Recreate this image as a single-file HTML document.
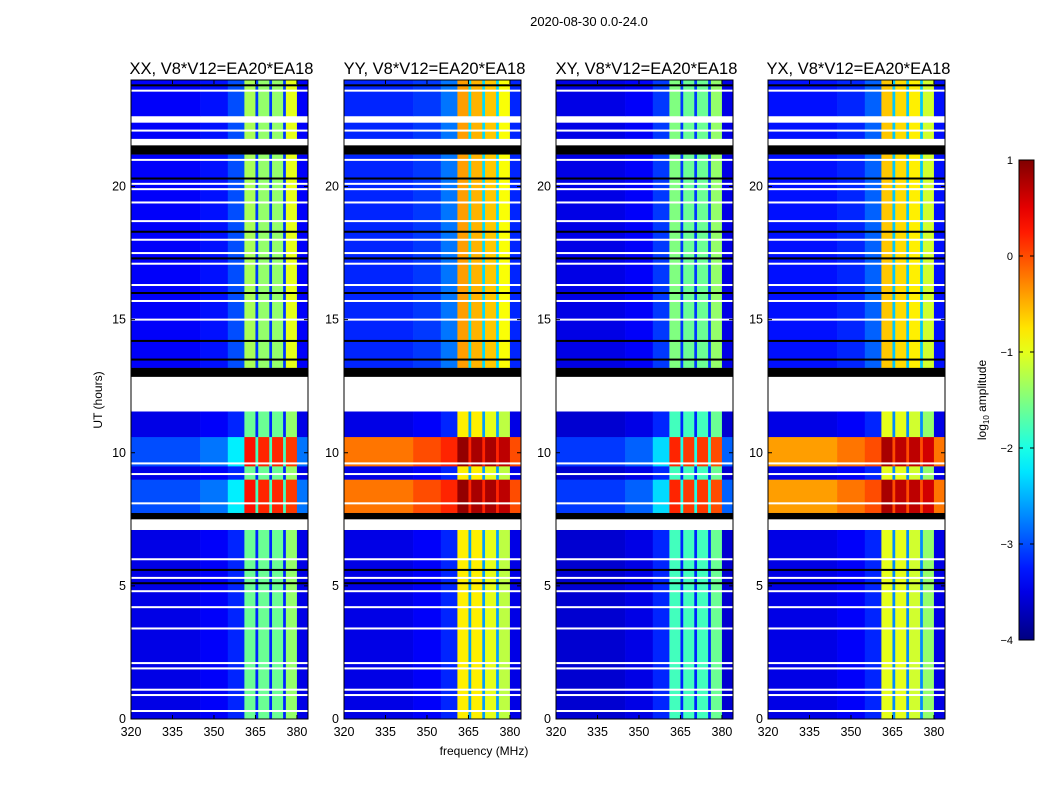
<!DOCTYPE html>
<html><head><meta charset="utf-8"><style>
body{margin:0;background:#fff;font-family:"Liberation Sans",sans-serif;}
svg text{font-family:"Liberation Sans",sans-serif;}
</style></head><body>
<svg id="chart" width="1050" height="800" xmlns="http://www.w3.org/2000/svg">
<text x="589" y="26" font-size="13" text-anchor="middle">2020-08-30 0.0-24.0</text>
<text x="484" y="755" font-size="12" text-anchor="middle">frequency (MHz)</text>
<text transform="translate(102,400) rotate(-90)" font-size="12" text-anchor="middle">UT (hours)</text>
<g id="panels"></g>
<g id="cbar"></g>
</svg>
<script>
const panelNames = ["XX, V8*V12=EA20*EA18","YY, V8*V12=EA20*EA18","XY, V8*V12=EA20*EA18","YX, V8*V12=EA20*EA18"];
const panelLeft = [131,344,556,768];
const freqEdges = [320,345,355,361,365,366,370,371,375,376,380,384];
const normalLevels = [
 [-3.5,-3.4,-3.2,-1.6,-3.2,-1.6,-3.2,-1.6,-3.2,-1.4,-3.5],
 [-3.5,-3.4,-3.2,-0.8,-2.6,-0.8,-2.6,-1.0,-2.6,-1.2,-3.5],
 [-3.6,-3.5,-3.2,-1.8,-3.2,-1.8,-3.2,-1.8,-3.2,-1.6,-3.6],
 [-3.5,-3.4,-3.2,-1.0,-2.7,-1.0,-2.7,-1.1,-2.7,-1.4,-3.5]];
const upperLevels = [
 [-3.4,-3.3,-3.0,-1.3,-3.1,-1.4,-3.1,-1.4,-3.1,-1.0,-3.4],
 [-3.2,-3.1,-2.8,-0.4,-2.3,-0.5,-2.3,-0.6,-2.3,-0.9,-3.2],
 [-3.5,-3.4,-3.1,-1.5,-3.1,-1.6,-3.1,-1.6,-3.1,-1.4,-3.5],
 [-3.3,-3.2,-2.9,-0.6,-2.4,-0.7,-2.4,-0.8,-2.4,-1.1,-3.3]];
const flareLevels = [
 [-3.0,-2.8,-2.2,0.3,-1.8,0.2,-1.8,0.2,-1.8,0.1,-2.8],
 [-0.2,0.0,0.2,0.9,0.2,0.8,0.2,0.8,0.2,0.7,0.0],
 [-3.1,-2.9,-2.3,0.2,-2.0,0.1,-2.0,0.1,-2.0,0.0,-2.9],
 [-0.4,-0.2,0.0,0.8,0.0,0.7,0.0,0.7,0.0,0.6,-0.2]];
const segStart = [0,7.1,7.5,7.75,9.0,9.5,10.6,11.55,12.85,13.2,21.2,21.55,21.8,22.4,22.65,24];
const segKind  = ["n","w","k","f","n","f","n","w","k","u","k","w","u","w","u"];
const whiteLines = [0.3,0.9,1.1,1.9,2.1,3.4,4.2,4.8,5.3,6.0,8.1,9.2,9.6,15.0,15.7,16.3,17.1,17.5,18.0,18.7,19.4,19.9,20.1,21.0,22.1,23.6];
const blackLines = [5.1,5.6,13.5,14.2,16.0,17.3,18.3,20.3,23.8];
const cbarTicks = [1,0,-1,-2,-3,-4];
const yTicks = [0,5,10,15,20];
const xTicks = [320,335,350,365,380];

const NS="http://www.w3.org/2000/svg";
const top0=80,bot0=719,pw=177;
function ys(h){return bot0-(h/24)*(bot0-top0);}
function xs(f,left){return left+(f-320)/64*pw;}
function jet(v){let t=(v+4)/5;t=Math.max(0,Math.min(1,t));
 const c=x=>Math.round(255*Math.max(0,Math.min(1,x)));
 const r=c(Math.min(4*t-1.5,-4*t+4.5)),g=c(Math.min(4*t-0.5,-4*t+3.5)),b=c(Math.min(4*t+0.5,-4*t+2.5));
 return `rgb(${r},${g},${b})`;}
function mk(tag,attrs,parent){const e=document.createElementNS(NS,tag);for(const k in attrs)e.setAttribute(k,attrs[k]);parent.appendChild(e);return e;}
const P=document.getElementById('panels');
panelNames.forEach((name,p)=>{
 const left=panelLeft[p];
 const g=mk('g',{},P);
 
 
 for(let s=0;s<segKind.length;s++){
  const k=segKind[s],y1=ys(segStart[s+1]),y2=ys(segStart[s]);
  if(k==='w'||k==='k'){const r=mk('rect',{x:left,y:y1,width:pw,height:y2-y1,fill:k==='w'?'#fff':'#000'},g);
   
   continue;}
  const lv=k==='f'?flareLevels[p]:(k==='u'?upperLevels[p]:normalLevels[p]);
  for(let c=0;c<lv.length;c++){
   const x1=xs(freqEdges[c],left),x2=xs(freqEdges[c+1],left);
   const r=mk('rect',{x:x1,y:y1,width:x2-x1+0.3,height:y2-y1+0.3,fill:jet(lv[c])},g);
   
   
  }
 }
 whiteLines.forEach(h=>{const r=mk('rect',{x:left,y:ys(h)-1,width:pw,height:2,fill:'#fff'},g);
  });
 blackLines.forEach(h=>{const r=mk('rect',{x:left,y:ys(h)-1,width:pw,height:2,fill:'#000'},g);
  });
 const fr=mk('rect',{x:left,y:top0,width:pw,height:bot0-top0,fill:'none',stroke:'#000','stroke-width':1},g);
 
 const t=mk('text',{x:left+pw/2+2,y:74,'font-size':16.5,'text-anchor':'middle'},g);t.textContent=name;
 
 yTicks.forEach(v=>{const y=ys(v);mk('line',{x1:left,x2:left+4,y1:y,y2:y,stroke:'#000'},g);mk('line',{x1:left+pw-4,x2:left+pw,y1:y,y2:y,stroke:'#000'},g);
  const l=mk('text',{x:left-5,y:y+4,'font-size':12.5,'text-anchor':'end'},g);l.textContent=v;
  });
 xTicks.forEach(v=>{const x=xs(v,left);mk('line',{x1:x,x2:x,y1:bot0,y2:bot0-4,stroke:'#000'},g);mk('line',{x1:x,x2:x,y1:top0,y2:top0+4,stroke:'#000'},g);
  const l=mk('text',{x:x,y:736,'font-size':12.5,'text-anchor':'middle'},g);l.textContent=v;
  });
});
const C=document.getElementById('cbar');
const cbTop=160,cbBot=640,cbX=1019,cbW=15;
const defs=mk('defs',{},C);const lg=mk('linearGradient',{id:'jetg',x1:0,y1:1,x2:0,y2:0},defs);
for(let i=0;i<=20;i++){mk('stop',{offset:i/20,'stop-color':jet(-4+5*i/20)},lg);}
const cb=mk('rect',{x:cbX,y:cbTop,width:cbW,height:cbBot-cbTop,fill:'url(#jetg)',stroke:'#000'},C);

cbarTicks.forEach(v=>{const y=cbBot-(v+4)/5*(cbBot-cbTop);
 mk('line',{x1:cbX,x2:cbX+4,y1:y,y2:y,stroke:'#000'},C);mk('line',{x1:cbX+cbW-4,x2:cbX+cbW,y1:y,y2:y,stroke:'#000'},C);
 const l=mk('text',{x:1013,y:y+4,'font-size':11,'text-anchor':'end'},C);l.textContent=v<0?'\u2212'+(-v):v;
 });
const cl=mk('text',{transform:'translate(986,400) rotate(-90)','font-size':12,'text-anchor':'middle'},C);
cl.innerHTML='log<tspan font-size="8" dy="3">10</tspan><tspan dy="-3"> amplitude</tspan>';

</script>
</body></html>
